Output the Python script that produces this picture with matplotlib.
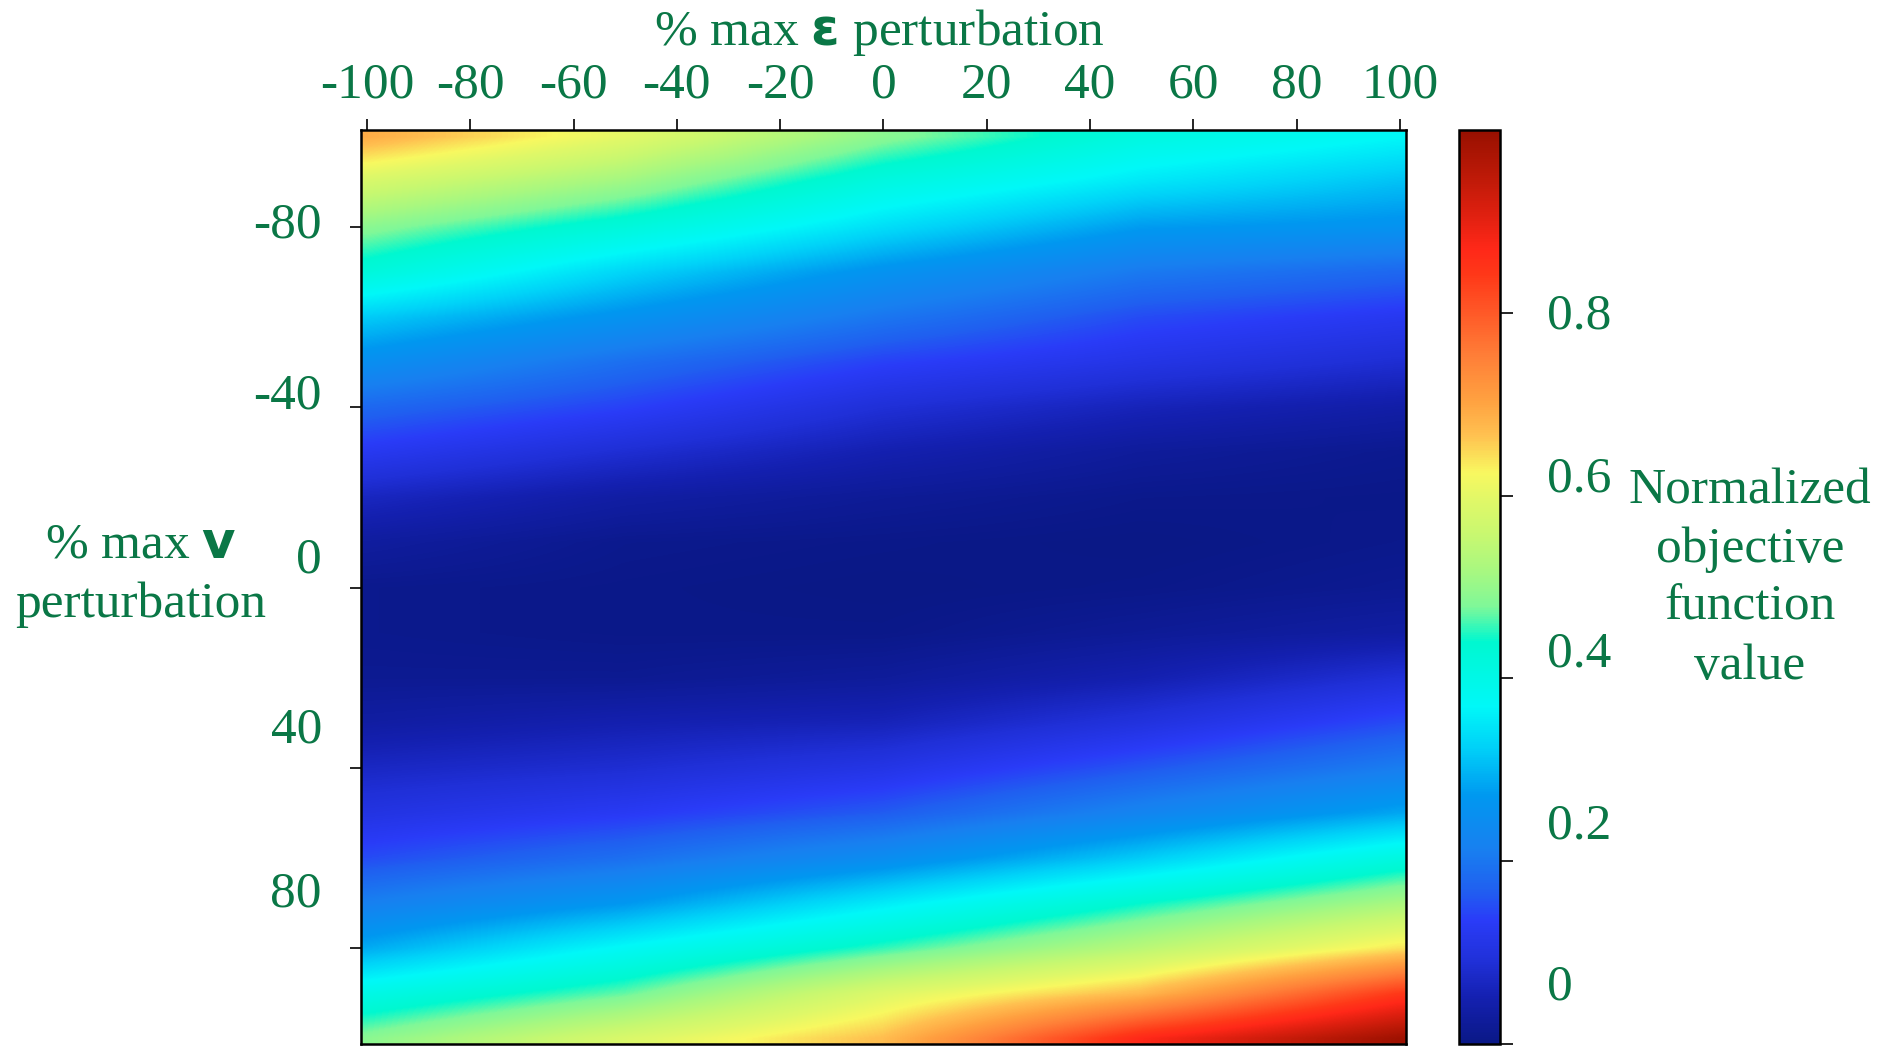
import numpy as np
import matplotlib
matplotlib.use("Agg")
import matplotlib.pyplot as plt
from matplotlib.colors import LinearSegmentedColormap

# ---------------- data ----------------
eps_pct = [-100, -50, 0, 50, 100]                      # columns (x)
v_pct = [-100, -90, -80, -70, -60, -50, -40, -30, -20, -10,
         0, 10, 20, 30, 40, 50, 60, 70, 80, 90, 100]     # rows (y)
objective = [
    [0.69, 0.60, 0.49, 0.41, 0.37],
    [0.58, 0.51, 0.41, 0.35, 0.31],
    [0.49, 0.42, 0.34, 0.275, 0.26],
    [0.42, 0.33, 0.26, 0.205, 0.18],
    [0.32, 0.26, 0.20, 0.15, 0.125],
    [0.25, 0.19, 0.14, 0.11, 0.085],
    [0.18, 0.14, 0.09, 0.06, 0.04],
    [0.125, 0.085, 0.05, 0.025, 0.012],
    [0.067, 0.036, 0.02, 0.008, 0.005],
    [0.03, 0.01, 0.005, 0.0, 0.008],
    [0.01, 0.005, 0.0, 0.005, 0.015],
    [0.01, 0.005, 0.005, 0.02, 0.035],
    [0.015, 0.015, 0.025, 0.05, 0.09],
    [0.035, 0.05, 0.06, 0.10, 0.15],
    [0.07, 0.085, 0.11, 0.16, 0.21],
    [0.105, 0.13, 0.165, 0.225, 0.285],
    [0.15, 0.19, 0.245, 0.32, 0.41],
    [0.215, 0.27, 0.355, 0.44, 0.52],
    [0.29, 0.375, 0.455, 0.54, 0.64],
    [0.40, 0.47, 0.59, 0.675, 0.84],
    [0.49, 0.585, 0.67, 0.87, 0.99],
]

x_ticks = [-100, -80, -60, -40, -20, 0, 20, 40, 60, 80, 100]
x_ticklabels = ["-100", "-80", "-60", "-40", "-20", "0", "20", "40", "60", "80", "100"]
y_ticks = [-80, -40, 0, 40, 80]
y_ticklabels = ["-80", "-40", "0", "40", "80"]
y_label_pos = [-81.5, -43.7, -7.3, 30.4, 66.7]       # where the labels sit in the reference
cbar_ticks = [0, 0.2, 0.4, 0.6, 0.8]
cbar_ticklabels = ["0", "0.2", "0.4", "0.6", "0.8"]
cbar_label_pos = [0.068, 0.244, 0.432, 0.624, 0.802]

cmap_stops = [0.0, 0.05, 0.09, 0.135, 0.168, 0.213, 0.271, 0.323, 0.369,
              0.440, 0.479, 0.518, 0.557, 0.595, 0.625, 0.667, 0.706,
              0.751, 0.799, 0.842, 0.871, 0.907, 0.946, 1.0]
cmap_colors = ["#0a1886", "#1420b0", "#2030d8", "#2a3cf8", "#2060f0", "#1880f0",
               "#0098f0", "#00d0f8", "#00f8f8", "#00f8d0", "#80f898", "#a8f880",
               "#c8f870", "#e0f868", "#f8f860", "#ffc050", "#ffa040", "#ff8038",
               "#ff5a28", "#ff3818", "#ff2818", "#e02010", "#c01a08", "#981000"]

GREEN = "#0a7746"
FS = 37

plt.rcParams["font.family"] = ["Liberation Serif", "DejaVu Sans"]
plt.rcParams["mathtext.fontset"] = "custom"
plt.rcParams["mathtext.rm"] = "Liberation Serif"
plt.rcParams["mathtext.bf"] = "DejaVu Sans:bold"

cmap = LinearSegmentedColormap.from_list("smoothjet", list(zip(cmap_stops, cmap_colors)), N=512)

W, H = 1881, 1046
fig = plt.figure(figsize=(W / 100, H / 100), dpi=100)

ax_l, ax_r, ax_t, ax_b = 360.7, 1406.5, 130, 1044
ax = fig.add_axes([ax_l / W, 1 - ax_b / H, (ax_r - ax_l) / W, (ax_b - ax_t) / H])
cb_l, cb_r = 1459, 1500
cax = fig.add_axes([cb_l / W, 1 - ax_b / H, (cb_r - cb_l) / W, (ax_b - ax_t) / H])

Z = np.array(objective)
dx = (eps_pct[1] - eps_pct[0]) / 2
dy = (v_pct[1] - v_pct[0]) / 2
im = ax.imshow(Z, origin="lower", cmap=cmap, vmin=0, vmax=1.0,
               extent=(eps_pct[0] - dx, eps_pct[-1] + dx, v_pct[0] - dy, v_pct[-1] + dy),
               aspect="auto", interpolation="bilinear", interpolation_stage="data")
ax.set_xlim(-101.2, 101.25)
ax.set_ylim(101.2, -101.5)

for s in ax.spines.values():
    s.set_linewidth(1.8)

# x axis (top)
ax.xaxis.tick_top()
ax.set_xticks(x_ticks)
ax.set_xticklabels(x_ticklabels)
ax.tick_params(axis="x", which="major", top=True, bottom=False, direction="out",
               length=8, width=1.2, pad=7.8, labelsize=FS, labelcolor=GREEN)

# y axis: tick marks at true positions, labels where the reference draws them
ax.set_yticks(y_ticks, minor=True)
ax.set_yticks(y_label_pos)
ax.set_yticklabels(y_ticklabels)
ax.tick_params(axis="y", which="minor", left=True, right=False, direction="out",
               length=8, width=1.2)
ax.tick_params(axis="y", which="major", left=True, right=False, length=0,
               pad=27.9, labelsize=FS, labelcolor=GREEN)

# colorbar
cb = fig.colorbar(im, cax=cax)
cb.outline.set_linewidth(1.8)
cb.set_ticks(cbar_label_pos, labels=cbar_ticklabels)
cb.set_ticks(cbar_ticks, minor=True)
cax.tick_params(which="minor", right=True, direction="out", length=9, width=1.2)
cax.tick_params(which="major", right=True, length=0, pad=33.6, labelsize=FS, labelcolor=GREEN)

# titles / labels
fig.text(879 / W, 1 - 45 / H, "% max $\\mathbf{ε}$ perturbation", ha="center",
         va="baseline", fontsize=FS, color=GREEN)
fig.text(141 / W, 1 - 557 / H, "% max $\\mathbf{v}$", ha="center", va="baseline",
         fontsize=FS, color=GREEN)
fig.text(141 / W, 1 - 617 / H, "perturbation", ha="center", va="baseline",
         fontsize=FS, color=GREEN)
for line, base in zip(["Normalized", "objective", "function", "value"], [503, 562, 620, 679]):
    fig.text(1750 / W, 1 - base / H, line, ha="center", va="baseline", fontsize=FS, color=GREEN)

fig.savefig("out.png", dpi=100)
